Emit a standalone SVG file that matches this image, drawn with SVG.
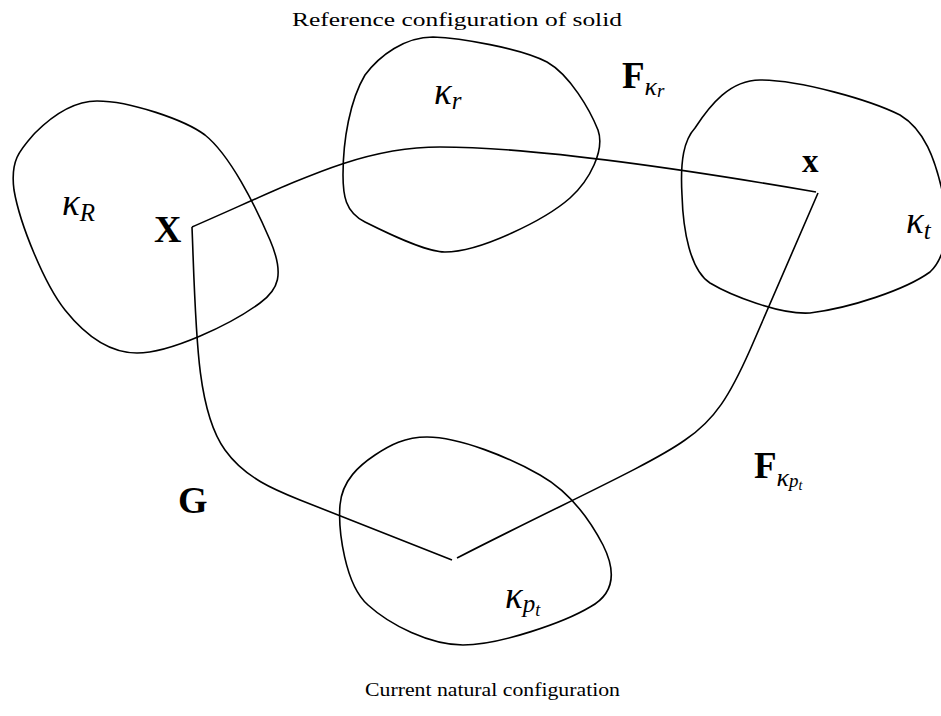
<svg xmlns="http://www.w3.org/2000/svg" width="941" height="716" viewBox="0 0 941 716">
<style>
.blob{fill:none;stroke:#000;stroke-width:1.6}
.conn{fill:none;stroke:#000;stroke-width:1.6}
.cap{font-family:"Liberation Serif","DejaVu Serif",serif;font-size:19px;fill:#000}
.bold{font-family:"Liberation Serif","DejaVu Serif",serif;font-weight:bold;fill:#000}
.math{font-family:"Liberation Serif","DejaVu Serif",serif;font-style:italic;font-weight:normal;fill:#000}
</style>
<rect width="941" height="716" fill="#fff"/>
<text class="cap" x="292" y="26" textLength="330" lengthAdjust="spacingAndGlyphs">Reference configuration of solid</text>
<text class="cap" x="365" y="696" textLength="255" lengthAdjust="spacingAndGlyphs">Current natural configuration</text>
<g id="kappaR">
<path class="blob" d="M97,101 C130,101 185,120 205,135 C230,155 255,205 270,240 C285,275 278,290 260,303 C230,325 170,353 137,353 C110,353 85,335 65,310 C45,285 20,225 14,190 C10,160 20,150 35,133 C55,113 75,101 97,101 Z"/>
<text class="math" x="62" y="215" font-size="37">κ<tspan font-size="25" dy="6">R</tspan></text>
</g>
<g id="kappar">
<path class="blob" d="M433,37 C460,38 520,48 547,62 C570,75 590,110 598,130 C605,150 590,180 570,198 C545,220 480,252 445,252 C425,252 385,232 365,222 C345,212 343,195 343,175 C343,140 350,100 365,75 C380,55 405,37 433,37 Z"/>
<text class="math" x="434" y="104" font-size="37">κ<tspan font-size="25" dy="5">r</tspan></text>
</g>
<g id="kappat">
<path class="blob" d="M760,80 C800,80 870,100 900,115 C925,130 935,160 942,190 C950,220 948,255 930,272 C905,290 850,308 810,313 C780,315 730,295 710,283 C690,270 683,230 682,195 C680,160 684,140 695,128 C710,105 730,80 760,80 Z"/>
<text class="math" x="906" y="233" font-size="37">κ<tspan font-size="25" dy="6">t</tspan></text>
</g>
<g id="kappapt">
<path class="blob" d="M427,437 C460,437 510,458 540,475 C570,492 590,520 603,545 C618,575 612,595 590,607 C565,622 500,645 463,645 C430,645 390,625 368,605 C345,585 338,530 340,505 C342,480 360,465 375,455 C390,445 405,437 427,437 Z"/>
<text class="math" x="505" y="608" font-size="37">κ<tspan font-size="25" dy="4">p</tspan><tspan font-size="18" dy="4">t</tspan></text>
</g>
<g id="connectors">
<path class="conn" d="M192,227 C300,180 360,147 440,147 C540,147 700,172 816,192"/>
<path class="conn" d="M192,227 C196,330 196,410 225,450 C245,478 275,490 300,500 L452,560"/>
<path class="conn" d="M818,193 L750,350 C730,395 715,420 685,440 C650,465 560,505 457,558"/>
</g>
<g id="labels">
<text class="bold" x="154" y="242" font-size="38">X</text>
<text class="bold" x="802" y="172" font-size="33">x</text>
<text class="bold" x="178" y="513" font-size="38">G</text>
<text class="bold" x="622" y="88" font-size="37">F<tspan class="math" font-size="26" dy="7">κ</tspan><tspan class="math" font-size="19" dy="2">r</tspan></text>
<text class="bold" x="754" y="478" font-size="37">F<tspan class="math" font-size="26" dy="8">κ</tspan><tspan class="math" font-size="19" dy="1">p</tspan><tspan class="math" font-size="14" dy="3">t</tspan></text>
</g>
</svg>
